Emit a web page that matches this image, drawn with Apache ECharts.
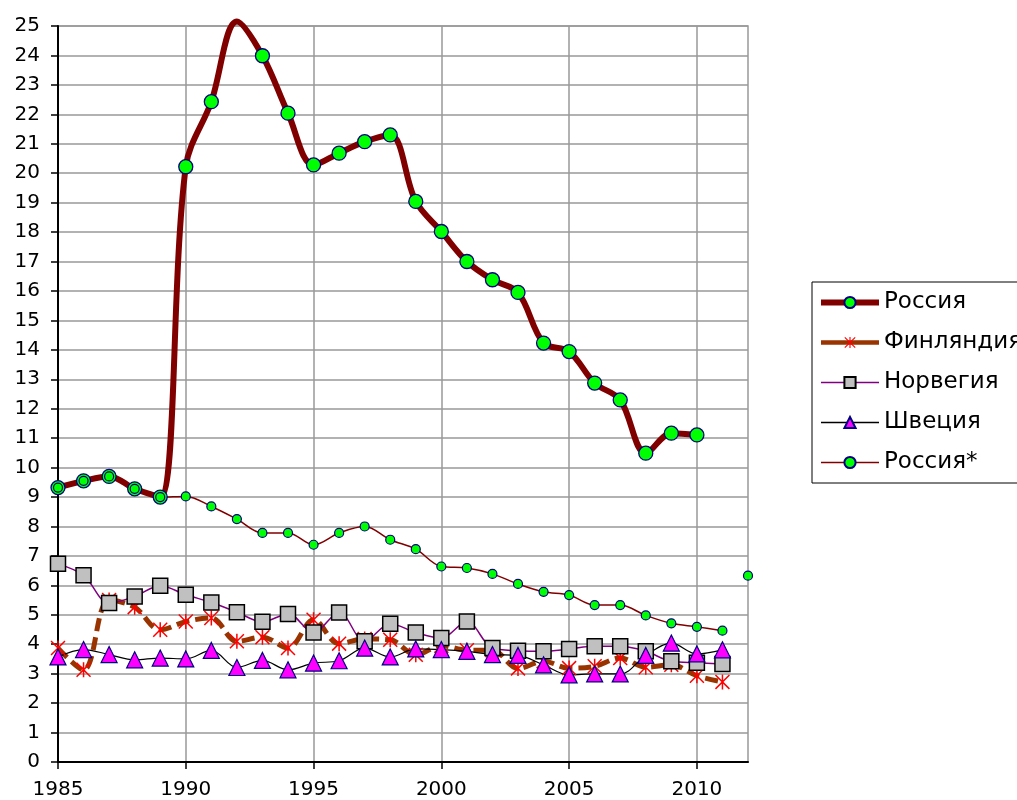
<!DOCTYPE html>
<html>
<head>
<meta charset="utf-8">
<script src="https://cdn.jsdelivr.net/npm/echarts@6/dist/echarts.min.js"></script>
<style>
  html, body { margin: 0; padding: 0; background: #fff; }
  #main { width: 1017px; height: 800px; }
</style>
</head>
<body>
<div id="main"></div>
<script>
// годы наблюдений
var years = [1985, 1986, 1987, 1988, 1989, 1990, 1991, 1992, 1993, 1994, 1995, 1996, 1997, 1998,
             1999, 2000, 2001, 2002, 2003, 2004, 2005, 2006, 2007, 2008, 2009, 2010, 2011];
var yearTicks = [1985, 1990, 1995, 2000, 2005, 2010];

var russia = [9.32, 9.55, 9.7, 9.28, 9.0, 20.22, 22.43, 25.15, 23.99, 22.04, 20.28, 20.68, 21.07, 21.3,
              19.04, 18.02, 17.0, 16.38, 15.95, 14.23, 13.94, 12.87, 12.3, 10.49, 11.17, 11.11];
var finland = [3.87, 3.13, 5.5, 5.26, 4.49, 4.77, 4.89, 4.1, 4.24, 3.87, 4.83, 4.02, 4.18, 4.15,
               3.64, 3.95, 3.8, 3.8, 3.18, 3.42, 3.19, 3.25, 3.53, 3.22, 3.3, 2.93, 2.72];
var norway = [6.73, 6.34, 5.4, 5.62, 5.99, 5.68, 5.42, 5.09, 4.76, 5.03, 4.4, 5.08, 4.1, 4.7,
              4.4, 4.21, 4.77, 3.87, 3.78, 3.76, 3.84, 3.93, 3.93, 3.76, 3.42, 3.37, 3.33];
var sweden = [3.57, 3.82, 3.65, 3.47, 3.53, 3.5, 3.79, 3.21, 3.45, 3.13, 3.36, 3.44, 3.87, 3.57,
              3.84, 3.82, 3.76, 3.65, 3.62, 3.3, 2.96, 2.99, 2.99, 3.62, 4.04, 3.67, 3.81];
var russiaStar = [9.32, 9.55, 9.7, 9.28, 9.0, 9.02, 8.68, 8.25, 7.78, 7.78, 7.38, 7.78, 8.0, 7.55,
                  7.23, 6.64, 6.59, 6.39, 6.05, 5.78, 5.67, 5.33, 5.33, 4.98, 4.71, 4.59, 4.46];
var russiaStar2012 = [[2012, 6.33]];

var yMax = 25;

function pairs(vals) {
  return vals.map(function (v, i) { return [years[i], v]; });
}

// точки выше максимума оси Excel рисует без маркера
var russiaData = russia.map(function (v, i) {
  var item = { value: [years[i], v] };
  if (v > yMax) item.symbol = 'none';
  return item;
});

var asterisk = 'path://M9,0h2v20h-2z M1.4,0L20,18.6L18.6,20L0,1.4z M18.6,0L20,1.4L1.4,20L0,18.6z';

var font = 'DejaVu Sans';

var chart = echarts.init(document.getElementById('main'));

var option = {
  animation: false,
  backgroundColor: '#fff',
  grid: {
    left: 58, top: 26, right: 269, bottom: 38,
    show: true, borderColor: '#999', borderWidth: 1.5
  },
  legend: {
    left: 812, top: 282,
    orient: 'vertical',
    itemWidth: 58, itemHeight: 14, itemGap: 17,
    padding: [9, 6, 9, 6],
    borderColor: '#000', borderWidth: 1,
    textStyle: { fontFamily: font, fontSize: 23, color: '#000' },
    data: [
      { name: 'Россия', lineStyle: { width: 6, color: '#800000' } },
      { name: 'Финляндия', lineStyle: { width: 4.5, color: '#993300', type: 'solid' } },
      { name: 'Норвегия', lineStyle: { width: 1.5, color: '#800080' } },
      { name: 'Швеция', lineStyle: { width: 1.5, color: '#000' } },
      { name: 'Россия*', lineStyle: { width: 1.5, color: '#800000' } }
    ]
  },
  xAxis: {
    type: 'value',
    min: 1985, max: 2012, interval: 5,
    axisLine: { onZero: false, lineStyle: { color: '#000', width: 2 } },
    axisTick: { show: true, length: 7, lineStyle: { color: '#000', width: 1.5 }, customValues: yearTicks },
    axisLabel: {
      fontFamily: font, fontSize: 20, color: '#000', margin: 18, customValues: yearTicks,
      formatter: function (v) { return String(v); }
    },
    splitLine: { show: true, lineStyle: { color: '#999', width: 1.5 } }
  },
  yAxis: {
    type: 'value',
    min: 0, max: yMax, interval: 1,
    axisLine: { show: true, lineStyle: { color: '#000', width: 2 } },
    axisTick: { show: true, length: 7, lineStyle: { color: '#000', width: 1.5 } },
    axisLabel: { fontFamily: font, fontSize: 20, color: '#000', margin: 18 },
    splitLine: { show: true, lineStyle: { color: '#999', width: 1.5 } }
  },
  series: [
    {
      name: 'Россия', type: 'line', smooth: 0.35, clip: false,
      data: russiaData,
      symbol: 'circle', symbolSize: 14,
      lineStyle: { color: '#800000', width: 6 },
      itemStyle: { color: '#00ff00', borderColor: '#000080', borderWidth: 1.3 }
    },
    {
      name: 'Финляндия', type: 'line', smooth: 0.35,
      data: pairs(finland),
      symbol: asterisk, symbolSize: 15,
      lineStyle: { color: '#993300', width: 5, type: [13, 6] },
      itemStyle: { color: '#ff0000', borderWidth: 0 }
    },
    {
      name: 'Норвегия', type: 'line', smooth: 0.35,
      data: pairs(norway),
      symbol: 'rect', symbolSize: 15,
      lineStyle: { color: '#800080', width: 1.5 },
      itemStyle: { color: '#c0c0c0', borderColor: '#000', borderWidth: 1.5 }
    },
    {
      name: 'Швеция', type: 'line', smooth: 0.35,
      data: pairs(sweden),
      symbol: 'triangle', symbolSize: 16,
      lineStyle: { color: '#000', width: 1.2 },
      itemStyle: { color: '#ff00ff', borderColor: '#000080', borderWidth: 1.2 }
    },
    {
      name: 'Россия*', type: 'line', smooth: 0.35,
      data: pairs(russiaStar),
      symbol: 'circle', symbolSize: 9,
      lineStyle: { color: '#800000', width: 1.5 },
      itemStyle: { color: '#00ff00', borderColor: '#000080', borderWidth: 1.2 }
    },
    {
      name: 'Россия*', type: 'line', clip: false,
      data: russiaStar2012,
      symbol: 'circle', symbolSize: 9,
      lineStyle: { color: '#800000', width: 1.5 },
      itemStyle: { color: '#00ff00', borderColor: '#000080', borderWidth: 1.2 }
    }
  ]
};

chart.setOption(option);
</script>
</body>
</html>
